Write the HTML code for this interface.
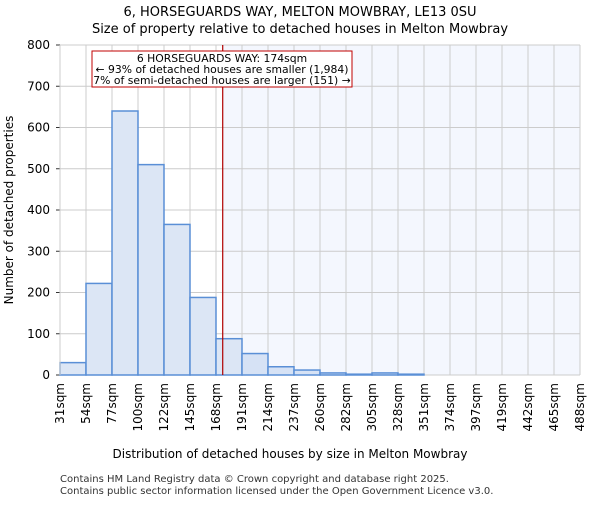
<!DOCTYPE html>
<html><head><meta charset="utf-8"><style>
body{margin:0;background:#fff;font-family:"Liberation Sans","DejaVu Sans",sans-serif;}
</style></head><body>
<svg width="600" height="500" xmlns="http://www.w3.org/2000/svg" font-family="DejaVu Sans, Liberation Sans, sans-serif">
<text x="300" y="16" text-anchor="middle" font-size="13">6, HORSEGUARDS WAY, MELTON MOWBRAY, LE13 0SU</text>
<text x="300" y="33" text-anchor="middle" font-size="13">Size of property relative to detached houses in Melton Mowbray</text>
<g id="plot"></g>
<text x="290" y="458" text-anchor="middle" font-size="12">Distribution of detached houses by size in Melton Mowbray</text>
<text transform="translate(13,210) rotate(-90)" text-anchor="middle" font-size="12">Number of detached properties</text>
<text x="60" y="482" font-size="10" fill="#333">Contains HM Land Registry data © Crown copyright and database right 2025.</text>
<text x="60" y="494" font-size="10" fill="#333">Contains public sector information licensed under the Open Government Licence v3.0.</text>
</svg>
<script>
const categories=["31sqm","54sqm","77sqm","100sqm","122sqm","145sqm","168sqm","191sqm","214sqm","237sqm","260sqm","282sqm","305sqm","328sqm","351sqm","374sqm","397sqm","419sqm","442sqm","465sqm","488sqm"];
const values=[30,222,640,510,365,188,88,52,20,12,5,2,5,2,0,0,0,0,0,0];
const yTicks=[0,100,200,300,400,500,600,700,800];
const propertySize=174;
const binStart=31, binEnd=488;
const NS="http://www.w3.org/2000/svg";
const g=document.getElementById('plot');
const X0=60,X1=580,Y0=375,Y1=45;
const xs=v=>X0+(v-binStart)/(binEnd-binStart)*(X1-X0);
const yb=v=>Y0-v/800*(Y0-Y1);
const bw=(X1-X0)/values.length;
function mk(t,a){const e=document.createElementNS(NS,t);for(const k in a)e.setAttribute(k,a[k]);g.appendChild(e);return e;}
const px=xs(propertySize);
let e=mk('rect',{x:px,y:Y1,width:X1-px,height:Y0-Y1,fill:'#f4f7fe'});


yTicks.forEach(t=>{let l=mk('line',{x1:X0,x2:X1,y1:yb(t),y2:yb(t),stroke:'#ccc','stroke-width':1});


let k=mk('line',{x1:X0-4,x2:X0,y1:yb(t),y2:yb(t),stroke:'#333'});


let tx=mk('text',{x:X0-10,y:yb(t)+4,'text-anchor':'end','font-size':12});tx.textContent=t;

});
categories.forEach((c,i)=>{const x=X0+i*bw;
let l=mk('line',{x1:x,x2:x,y1:Y1,y2:Y0,stroke:'#ccc','stroke-width':1});


let tx=mk('text',{transform:`translate(${x+4},${Y0+8}) rotate(-90)`,'text-anchor':'end','font-size':12});tx.textContent=c;

});
values.forEach((v,i)=>{let r=mk('rect',{x:X0+i*bw,y:yb(v),width:bw,height:Y0-yb(v),fill:i>=7?'#d6e2f5':'#dce6f5',stroke:'#5a8fd6','stroke-width':1.5});

});
let ax=mk('line',{x1:X0,x2:X0,y1:Y1,y2:Y0,stroke:'#ccc'});


let pl=mk('line',{x1:px,x2:px,y1:Y1,y2:Y0,stroke:'#b00000','stroke-width':1.2});


let bx=mk('rect',{x:92,y:51,width:260,height:36,fill:'#fff',stroke:'#c00000','stroke-width':1});


["6 HORSEGUARDS WAY: 174sqm","← 93% of detached houses are smaller (1,984)","7% of semi-detached houses are larger (151) →"].forEach((s,i)=>{
let t=mk('text',{x:222,y:62+i*11,'text-anchor':'middle','font-size':10.8});t.textContent=s;

});
</script>
</body></html>
